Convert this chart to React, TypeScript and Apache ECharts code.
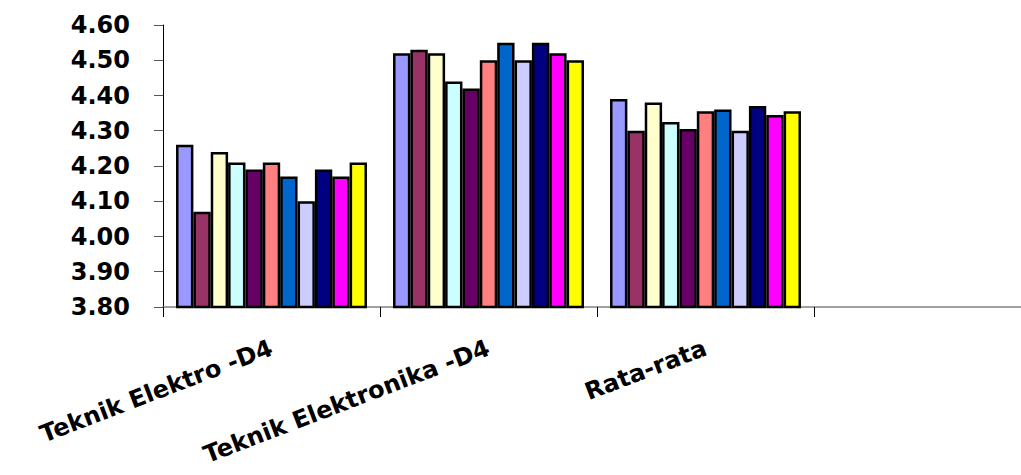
import React, { useEffect, useRef } from "react";
import * as echarts from "echarts";

const categories = ["Teknik Elektro -D4", "Teknik Elektronika -D4", "Rata-rata", ""];
const seriesColors = [
  "#9999FF", "#993366", "#FFFFCC", "#CCFFFF", "#660066", "#FF8080",
  "#0066CC", "#CCCCFF", "#000080", "#FF00FF", "#FFFF00",
];
// values per series: [Teknik Elektro -D4, Teknik Elektronika -D4, Rata-rata]
const s1 = [4.26, 4.52, 4.39];
const s2 = [4.07, 4.53, 4.30];
const s3 = [4.24, 4.52, 4.38];
const s4 = [4.21, 4.44, 4.325];
const s5 = [4.19, 4.42, 4.305];
const s6 = [4.21, 4.50, 4.355];
const s7 = [4.17, 4.55, 4.36];
const s8 = [4.10, 4.50, 4.30];
const s9 = [4.19, 4.55, 4.37];
const s10 = [4.17, 4.52, 4.345];
const s11 = [4.21, 4.50, 4.355];
const allSeries = [s1, s2, s3, s4, s5, s6, s7, s8, s9, s10, s11];

const FONT = "'DejaVu Sans', sans-serif";

export default function App() {
  const ref = useRef<HTMLDivElement>(null);
  useEffect(() => {
    if (!ref.current) return;
    const chart = echarts.init(ref.current, null, { renderer: "svg" });
    chart.setOption({
      animation: false,
      backgroundColor: "#ffffff",
      grid: {
        left: 163,
        top: 25,
        width: 868,
        height: 282,
        outerBoundsMode: "none",
        containLabel: false,
      },
      xAxis: {
        type: "category",
        data: categories,
        axisLine: { lineStyle: { color: "#808080", width: 1.5 } },
        axisTick: { show: true, length: 10, lineStyle: { color: "#000000" } },
        axisLabel: {
          interval: 0,
          rotate: 21,
          margin: 40,
          fontFamily: FONT,
          fontWeight: "bold",
          fontSize: 24,
          lineHeight: 26,
          color: "#000000",
        },
        splitLine: { show: false },
      },
      yAxis: {
        type: "value",
        min: 3.8,
        max: 4.6,
        interval: 0.1,
        axisLine: { show: true, lineStyle: { color: "#000000", width: 1 } },
        axisTick: { show: true, length: 9, lineStyle: { color: "#555555" } },
        axisLabel: {
          margin: 33,
          fontFamily: FONT,
          fontWeight: "bold",
          fontSize: 24,
          color: "#000000",
          formatter: (v: number) => v.toFixed(2),
        },
        splitLine: { show: false },
      },
      series: allSeries.map((d, i) => ({
        type: "bar",
        name: "S" + (i + 1),
        data: [...d, "-"],
        barGap: "0%",
        barCategoryGap: "12%",
        itemStyle: {
          color: seriesColors[i],
          borderColor: "#000000",
          borderWidth: 2.5,
        },
      })),
    });
    return () => chart.dispose();
  }, []);
  return (
    <div
      ref={ref}
      style={{ position: "fixed", left: 0, top: 0, width: 1021, height: 475 }}
    />
  );
}
